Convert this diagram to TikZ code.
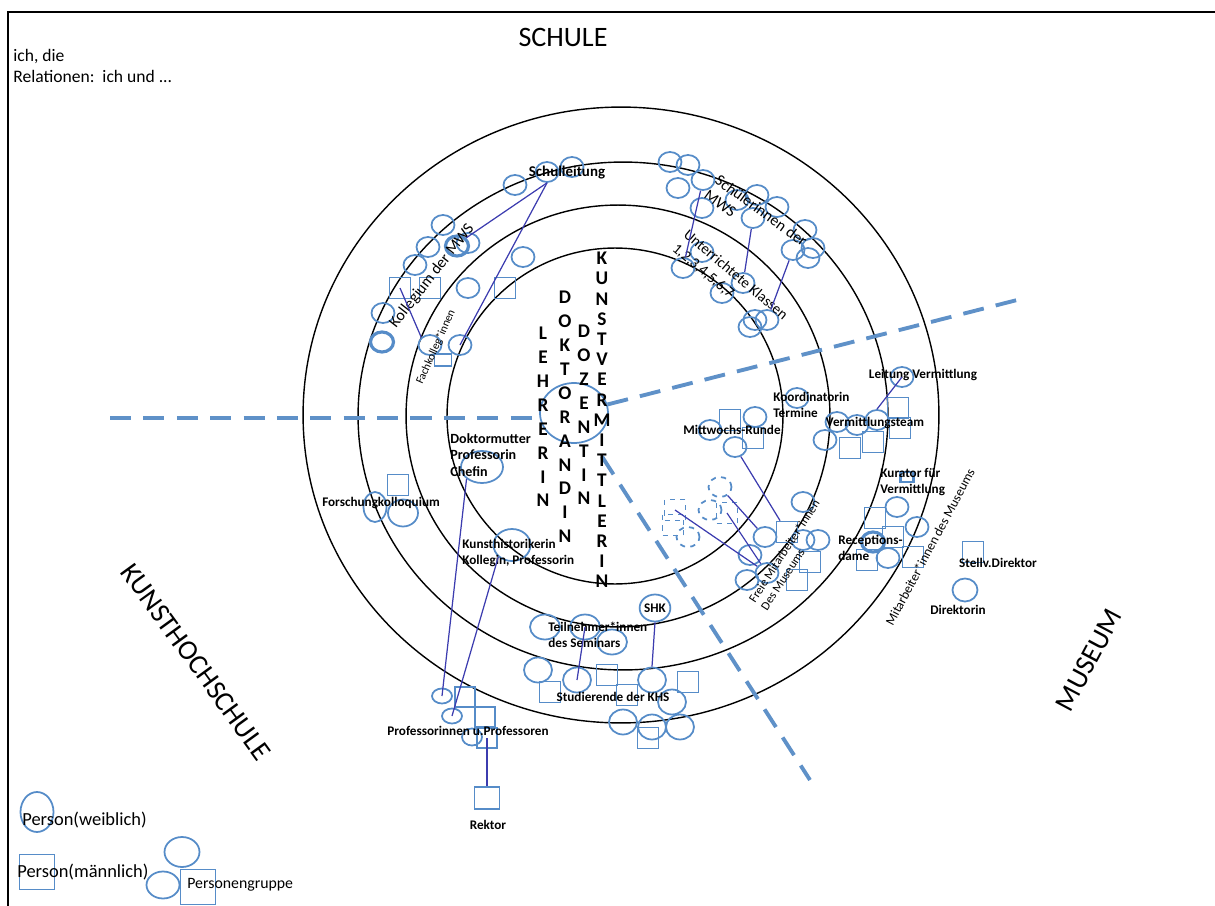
\documentclass[tikz,border=0pt]{standalone}
\usepackage{fontspec}
\setmainfont{Carlito}
\usetikzlibrary{shapes.geometric}
\definecolor{pblue}{RGB}{86,140,200}
\definecolor{lnk}{RGB}{60,60,175}
\definecolor{dashblue}{RGB}{95,145,200}

\begin{document}
\begin{tikzpicture}[x=0.02cm,y=-0.02cm,
    fem/.style={draw=pblue,line width=1pt,ellipse,minimum width=4.6mm,minimum height=4mm,inner sep=0pt},
    mal/.style={draw=pblue,line width=1pt,rectangle,minimum width=4.2mm,minimum height=4.2mm,inner sep=0pt},
    femd/.style={fem,dashed},
    mald/.style={mal,dashed},
    ring/.style={line width=0.8pt},
    sepline/.style={draw=dashblue,line width=2.2pt,dash pattern=on 12pt off 7pt},
    link/.style={draw=lnk,line width=0.7pt},
    lbl/.style={font=\fontsize{7.5}{9}\selectfont\bfseries,inner sep=0pt,align=left},
    ringtext/.style={font=\fontsize{9}{10.5}\selectfont,inner sep=0pt,align=left},
    letters/.style={font=\fontsize{11}{13.6}\selectfont\bfseries,inner sep=0pt,align=center},
    sphere/.style={font=\fontsize{16}{19}\selectfont,inner sep=0pt}]
    \useasboundingbox (0,0) rectangle (1215,906);
    % frame
    \draw[line width=1.2pt] (8,906) -- (8,12) -- (1215,12);
    % headings
    \node[sphere] (schule) at (563,37) {SCHULE};
    \node[sphere,rotate=-54] (khs) at (196,662) {KUNSTHOCHSCHULE};
    \node[sphere,rotate=62] (museum) at (1089,660) {MUSEUM};
    \node[anchor=north west,align=left,inner sep=0pt,font=\fontsize{10}{12}\selectfont] (intro) at (13,49) {ich, die\\Relationen:\ \ ich und ...};
    % rings
    \draw[ring] (621,415) ellipse [x radius=6.36cm,y radius=6.16cm];
    \draw[ring] (623,416) ellipse [x radius=5.3cm,y radius=5.08cm];
    \draw[ring] (618,416) ellipse [x radius=4.24cm,y radius=4.22cm];
    \draw[ring] (615,416) circle [radius=3.36cm];
    % ich and the borders between the fields
    \node[fem,minimum width=13.6mm,minimum height=12mm] (ich) at (574,413) {};
    \coordinate (wl) at (110,418);
    \coordinate (ne) at (1025,298);
    \coordinate (se) at (810,780);
    \draw[sepline] (wl) -- (wl -| ich.west);
    \draw[sepline] (ich) -- (ne);
    \draw[sepline,shorten <=4mm] (ich) -- (se);
    \node[letters] (lehrerin) at (543,417) {L\\E\\H\\R\\E\\R\\I\\N};
    \node[letters] (doktorandin) at (565,417) {D\\O\\K\\T\\O\\R\\A\\N\\D\\I\\N};
    \node[letters] (dozentin) at (584,415) {D\\O\\Z\\E\\N\\T\\I\\N};
    \node[letters,font=\fontsize{11}{11.5}\selectfont\bfseries] (kv) at (602,420) {K\\U\\N\\S\\T\\V\\E\\R\\M\\I\\T\\T\\L\\E\\R\\I\\N};
    % schule
    \foreach \x/\y [count=\i] in {515/185,547/172,572/167}
        \node[fem] (sl\i) at (\x,\y) {};
    \node[lbl,font=\fontsize{8.5}{10}\selectfont\bfseries] (schulleitung) at (567,173) {Schulleitung};
    \foreach \x/\y [count=\i] in {443/225,428/247,468/243,415/265,383/313,468/288,523/257}
        \node[fem] (kf\i) at (\x,\y) {};
    \node[fem,line width=1.8pt] (kf8) at (457,246) {};
    \node[fem,line width=1.8pt] (kf9) at (382,342) {};
    \foreach \x/\y [count=\i] in {400/288,430/288,505/288}
        \node[mal] (km\i) at (\x,\y) {};
    \node[ringtext,rotate=52] (kollegium) at (432,276) {Kollegium der MWS};
    \node[fem] (fk1) at (430,345) {};
    \node[fem] (fk2) at (460,345) {};
    \node[mal,minimum width=3.4mm,minimum height=2.4mm] (fk3) at (443,360) {};
    \node[ringtext,font=\fontsize{6.5}{7}\selectfont,rotate=66] (fachkolleg) at (436,347) {Fachkolleg*innen};
    \draw[link] (sl2.south) -- (kf8.north east);
    \draw[link] (sl2.south) -- (fk2.center);
    \draw[link] (km1.center) -- (fk1.north west);
    \foreach \x/\y [count=\i] in {670/162,688/165,678/188,703/180,702/208,737/200,757/195,753/218,777/207,805/230,793/250,813/248,808/258}
        \node[fem] (sw\i) at (\x,\y) {};
    \foreach \x/\y [count=\i] in {702/252,683/268,743/283,722/293,755/320,767/320,750/327}
        \node[fem] (uk\i) at (\x,\y) {};
    \node[ringtext,rotate=-36] (schuelerinnen) at (756,218) {Schülerinnen der\\MWS};
    \node[ringtext,font=\fontsize{8.5}{10}\selectfont,rotate=-40] (klassen) at (730,282) {Unterrichtete Klassen\\1,2,3,4,5,6,7};
    \draw[link] (sw4) -- (uk2);
    \draw[link] (sw8) -- (uk3);
    \draw[link] (sw11) -- (uk6);
    % museum
    \foreach \x/\y [count=\i] in {710/430,755/417,735/447}
        \node[fem] (mr\i) at (\x,\y) {};
    \foreach \x/\y [count=\i] in {730/420,753/438}
        \node[mal] (mrm\i) at (\x,\y) {};
    \node[lbl] (mittwoch) at (732,430) {Mittwochs-Runde};
    \node[fem] (ko) at (797,398) {};
    \node[lbl,anchor=west] (koordinatorin) at (773,405) {Koordinatorin\\Termine};
    \foreach \x/\y [count=\i] in {825/440,837/422,857/425,877/420}
        \node[fem] (vt\i) at (\x,\y) {};
    \foreach \x/\y [count=\i] in {850/448,873/442,898/408,900/428}
        \node[mal] (vtm\i) at (\x,\y) {};
    \node[lbl] (vermittlungsteam) at (875,423) {Vermittlungsteam};
    \node[fem] (lv) at (902,377) {};
    \node[lbl] (leitung) at (923,375) {Leitung Vermittlung};
    \draw[link] (lv.center) -- (vt4.north);
    \node[mal,line width=1.6pt,minimum width=2.6mm,minimum height=2mm] (ku) at (907,477) {};
    \node[lbl,anchor=west] (kurator) at (880,482) {Kurator für\\Vermittlung};
    \foreach \x/\y [count=\i] in {897/507,917/527,888/558}
        \node[fem] (ma\i) at (\x,\y) {};
    \node[fem,line width=1.8pt] (ma4) at (873,542) {};
    \foreach \x/\y [count=\i] in {875/518,893/537,867/560,913/557}
        \node[mal] (mam\i) at (\x,\y) {};
    \node[lbl,anchor=west] (rezeption) at (838,548) {Receptions-\\dame};
    \node[ringtext,font=\fontsize{7.5}{9}\selectfont,rotate=62] (mitarbeiter) at (930,547) {Mitarbeiter*innen des Museums};
    \node[mal] (sd) at (973,552) {};
    \node[lbl] (stellv) at (998,563) {Stellv.Direktor};
    \node[fem,minimum width=5mm,minimum height=4.6mm] (di) at (965,590) {};
    \node[lbl] (direktorin) at (958,610) {Direktorin};
    \foreach \x/\y [count=\i] in {803/502,803/540,765/537,818/540,750/555,747/580,767/573}
        \node[fem] (fm\i) at (\x,\y) {};
    \foreach \x/\y [count=\i] in {787/532,810/562,797/580}
        \node[mal] (fmm\i) at (\x,\y) {};
    \node[ringtext,font=\fontsize{7}{8}\selectfont,rotate=57] (freie) at (790,555) {Freie Mitarbeiter*innen\\Des Museums};
    \foreach \x/\y [count=\i] in {720/487,710/510,688/537}
        \node[femd] (pd\i) at (\x,\y) {};
    \foreach \x/\y [count=\i] in {675/510,673/525,727/513}
        \node[mald] (pdm\i) at (\x,\y) {};
    \draw[link] (mr3) -- (fmm1);
    \draw[link] (pd1) -- (fm3);
    \draw[link] (pdm1.center) -- (fm7);
    \draw[link] (pdm3.center) -- (fm7);
    % kunsthochschule
    \node[fem,minimum width=8.4mm,minimum height=6.4mm] (dm) at (482,467) {};
    \node[lbl,anchor=west,font=\fontsize{8}{9.6}\selectfont\bfseries] (doktormutter) at (450,455) {Doktormutter\\Professorin\\Chefin};
    \node[fem,minimum width=4.6mm,minimum height=6mm] (fo1) at (375,507) {};
    \node[fem,minimum width=6mm,minimum height=5.4mm] (fo2) at (403,513) {};
    \node[mal] (fo3) at (398,485) {};
    \node[lbl] (forschung) at (381,503) {Forschungkolloquium};
    \node[fem,minimum width=7.4mm,minimum height=6.4mm] (kh) at (512,545) {};
    \node[lbl,anchor=west] (kunsthist) at (462,553) {Kunsthistorikerin\\Kollegin, Professorin};
    \node[fem,minimum width=4mm,minimum height=3mm] (pr1) at (442,696) {};
    \node[fem,minimum width=4mm,minimum height=3mm] (pr2) at (452,716) {};
    \node[fem,minimum width=4mm,minimum height=3.4mm] (pr3) at (472,737) {};
    \foreach \x/\y [count=\i] in {465/697,485/717,487/738}
        \node[mal,minimum width=4mm,minimum height=4mm] (prm\i) at (\x,\y) {};
    \node[lbl] (professoren) at (468,731) {Professorinnen u.Professoren};
    \node[mal,minimum width=5mm,minimum height=4.4mm] (rk) at (487,798) {};
    \node[lbl] (rektor) at (488,825) {Rektor};
    \draw[link] (dm.south west) -- (pr1.center);
    \draw[link] (kh.south west) -- (pr2.center);
    \draw[link] (prm3.center) -- (rk.north);
    \node[fem,lbl,draw=pblue,minimum width=6mm,minimum height=5.4mm] (shk) at (655,608) {SHK};
    \foreach \x/\y [count=\i] in {545/627,585/627,612/642}
        \node[fem,minimum width=6mm,minimum height=5mm] (tn\i) at (\x,\y) {};
    \node[lbl,anchor=west] (teilnehmer) at (548,635) {Teilnehmer*innen\\des Seminars};
    \foreach \x/\y [count=\i] in {538/670,577/680,652/680,672/702,623/722,652/727,680/727}
        \node[fem,minimum width=5.6mm,minimum height=5mm] (sk\i) at (\x,\y) {};
    \foreach \x/\y [count=\i] in {550/692,607/675,627/695,688/682,648/738}
        \node[mal] (skm\i) at (\x,\y) {};
    \node[lbl] (studierende) at (613,697) {Studierende der KHS};
    \draw[link] (shk.south) -- (sk3.north);
    \draw[link] (tn2.center) -- (sk2.center);
    % legend
    \node[fem,minimum width=6.6mm,minimum height=8mm] (lgf) at (37,812) {};
    \node[anchor=west,inner sep=0pt,font=\fontsize{10.5}{12}\selectfont] (lgftext) at (22,820) {Person(weiblich)};
    \node[mal,minimum width=7mm,minimum height=7mm] (lgm) at (37,872) {};
    \node[anchor=west,inner sep=0pt,font=\fontsize{10.5}{12}\selectfont] (lgmtext) at (17,872) {Person(männlich)};
    \node[fem,minimum width=7mm,minimum height=6mm] (lgg1) at (182,852) {};
    \node[fem,minimum width=6.6mm,minimum height=5.4mm] (lgg2) at (163,885) {};
    \node[mal,minimum width=7mm,minimum height=7mm] (lgg3) at (198,887) {};
    \node[anchor=west,inner sep=0pt,font=\fontsize{9}{10}\selectfont] (lggtext) at (187,885) {Personengruppe};
\end{tikzpicture}
\end{document}
